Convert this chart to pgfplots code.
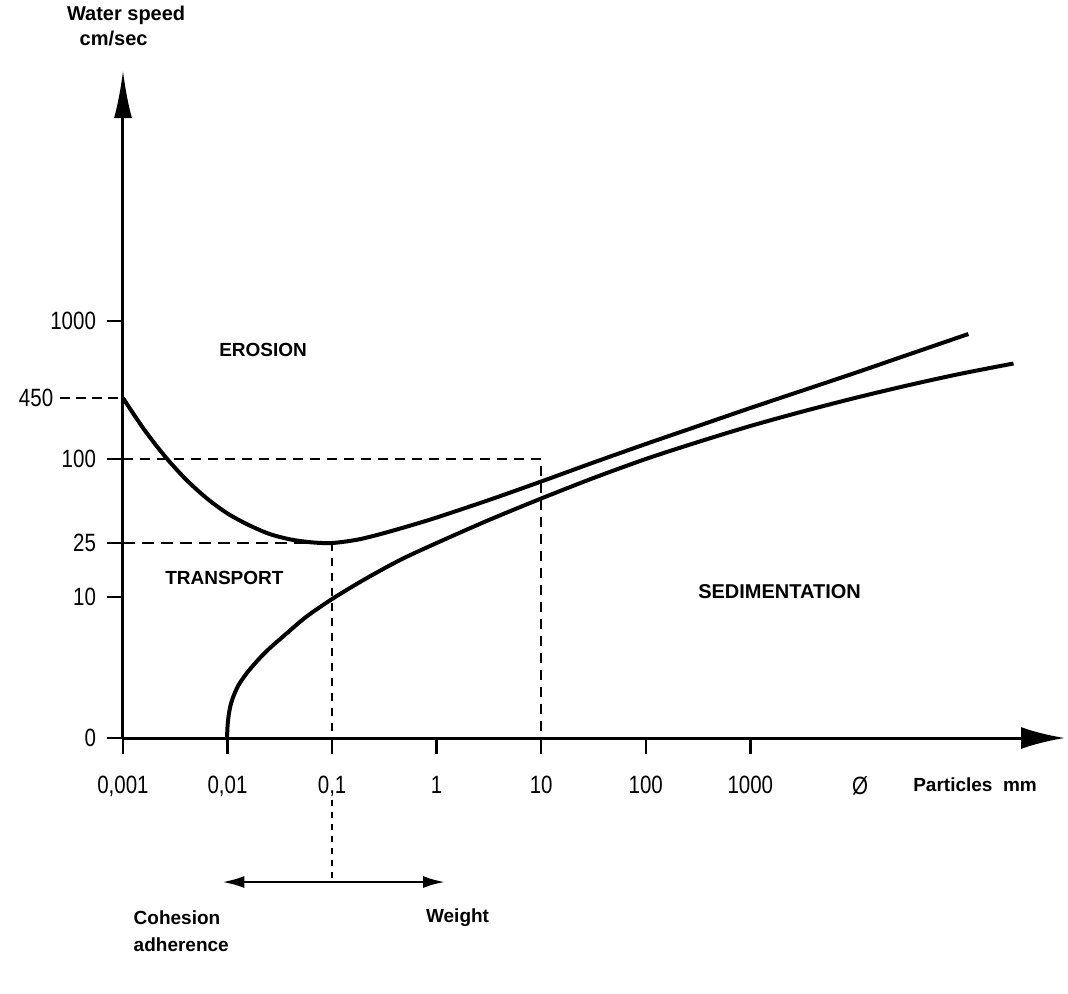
\documentclass[border=0pt]{standalone}
\usepackage{fontspec}
\setmainfont{Liberation Sans}
\newfontfamily\narrowfont[FakeStretch=0.82]{Liberation Sans}
\usepackage{pgfplots}
\pgfplotsset{compat=1.18}
\usetikzlibrary{arrows.meta}

\begin{document}
\begin{tikzpicture}
\useasboundingbox (-61.5pt,-127.5pt) rectangle (472.5pt,369pt);
\begin{axis}[
  at={(0,0)}, anchor=south west,
  scale only axis, width=471pt, height=334pt,
  xmin=0, xmax=9.01, ymin=0, ymax=668,
  clip=false,
  axis lines=left,
  x axis line style={line width=1.5pt, -{Latex[length=22pt,width=11pt]}},
  y axis line style={line width=1.5pt, -{Latex[length=24pt,width=9pt]}},
  xtick={0,1,2,3,4,5,6},
  xticklabels={{0,001},{0,01},{0,1},1,10,100,1000},
  ytick={0,141,195,279,417},
  yticklabels={0,10,25,100,1000},
  extra x ticks={7.05},
  extra x tick labels={Ø},
  extra x tick style={major tick length=0pt, xticklabel style={yshift=-8.5pt}},
  tick align=outside,
  major tick length=8pt,
  tick style={line width=1.2pt, black},
  ticklabel style={font=\narrowfont\fontsize{12.5}{14}\selectfont},
  xticklabel style={yshift=-7.5pt},
  yticklabel style={xshift=-2pt},
]
% guide lines
\addplot[black, line width=1.1pt, dash pattern=on 5pt off 3.5pt] coordinates {(0,279) (4,279) (4,0)};
\addplot[black, line width=1.1pt, dash pattern=on 6pt off 3.5pt] coordinates {(0,195) (2,195)};
\addplot[black, line width=1.1pt, dash pattern=on 4pt off 3.5pt] coordinates {(2,195) (2,0)};
\addplot[black, line width=1.1pt, dash pattern=on 3pt off 3pt] coordinates {(2,-62) (2,-144)};
\addplot[black, line width=1.1pt, dash pattern=on 5pt off 3pt] coordinates {(-0.6,340) (0,340)};
% double arrow
\addplot[black, line width=1.3pt, {Latex[length=11pt,width=6pt]}-{Latex[length=11pt,width=6pt]}] coordinates {(0.95,-144) (3.08,-144)};
% erosion curve
\addplot[black, line width=2pt, smooth] coordinates {
(0,340) (0.2,308.8) (0.4,281.8) (0.6,258.8) (0.8,239.8) (1.0,224.5) (1.2,213.1)
(1.4,204.1) (1.6,198.6) (1.8,195.7) (2.0,195) (2.25,198.5) (2.5,205) (2.75,212.5)
(3.0,220.5) (3.5,238) (4.0,256.5) (4.5,275.5) (5.0,294) (5.5,312) (6.0,330)
(6.5,347.5) (7.0,365) (7.5,383) (8.086,404)};
% sedimentation curve
\addplot[black, line width=2pt, smooth] coordinates {
(0.995,0) (1.0,12) (1.01,22) (1.025,31) (1.05,40) (1.1,52) (1.15,60) (1.2,67)
(1.3,79) (1.4,89.5) (1.531,101.5) (1.75,121) (2.0,139) (2.3,158) (2.65,178) (3.0,195)
(3.5,218) (4.0,239.5) (4.5,260) (5.0,279) (5.5,296) (6.0,312) (6.5,326.5) (7.0,340)
(7.5,352.5) (8.0,364) (8.517,374.5)};
% labels
\node[font=\narrowfont\fontsize{12.5}{14}\selectfont, anchor=east] at (axis cs:-0.6,340) {450};
\node[font=\bfseries\fontsize{10}{12}\selectfont] at (axis cs:0.03,723) {Water speed};
\node[font=\bfseries\fontsize{10}{12}\selectfont] at (axis cs:-0.09,700) {cm/sec};
\node[font=\bfseries\fontsize{9.5}{12}\selectfont] at (axis cs:1.34,388) {EROSION};
\node[font=\bfseries\fontsize{9.5}{12}\selectfont] at (axis cs:0.97,160) {TRANSPORT};
\node[font=\bfseries\fontsize{10}{12}\selectfont] at (axis cs:6.28,146) {SEDIMENTATION};
\node[font=\bfseries\fontsize{9.5}{12}\selectfont] at (axis cs:8.15,-47) {Particles\ \ mm};
\node[font=\bfseries\fontsize{9.5}{12}\selectfont, anchor=west] at (axis cs:0.035,-180) {Cohesion};
\node[font=\bfseries\fontsize{9.5}{12}\selectfont, anchor=west] at (axis cs:0.035,-207) {adherence};
\node[font=\bfseries\fontsize{9.5}{12}\selectfont] at (axis cs:3.2,-180) {Weight};
\end{axis}
\end{tikzpicture}
\end{document}
